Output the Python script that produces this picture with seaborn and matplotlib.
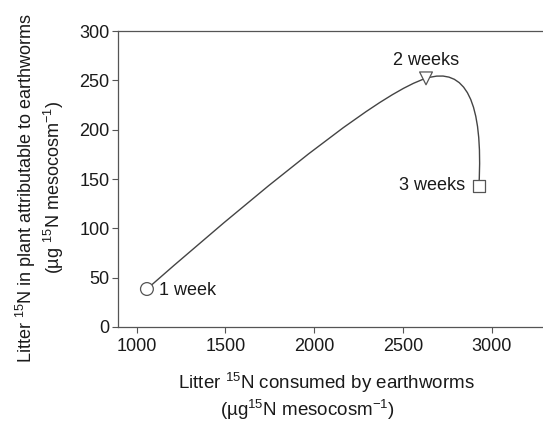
import numpy as np
import pandas as pd
import matplotlib
matplotlib.use("Agg")
import matplotlib.pyplot as plt
from matplotlib.path import Path
from matplotlib.patches import PathPatch
import seaborn as sns

# data
weeks = ["1 week", "2 weeks", "3 weeks"]
consumed = [1058, 2630, 2928]      # litter 15N consumed by earthworms
in_plant = [38.5, 252, 143]        # litter 15N in plant attributable to earthworms

x_ticks = [1000, 1500, 2000, 2500, 3000]
y_ticks = [0, 50, 100, 150, 200, 250, 300]

df = pd.DataFrame({"week": weeks, "consumed": consumed, "plant": in_plant})

sns.set_style("ticks")
plt.rcParams["font.family"] = ["Liberation Sans", "DejaVu Sans"]
plt.rcParams["mathtext.fontset"] = "custom"
plt.rcParams["mathtext.rm"] = "Liberation Sans"
plt.rcParams["mathtext.it"] = "Liberation Sans"
plt.rcParams["mathtext.default"] = "rm"

edge = "#555555"
txt = "#1a1a1a"

fig = plt.figure(figsize=(5.43, 4.26), dpi=100)
ax = fig.add_axes([0.2173, 0.2324, 0.7827, 0.6948])
ax.set_xlim(895, 3289)
ax.set_ylim(0, 300)


def smooth_path(ax, xs, ys, k=0.12):
    # excel-like smoothed line, built in screen space
    pts = ax.transData.transform(np.column_stack([xs, ys]))
    n = len(pts)
    h = [None] * n
    for i in range(1, n - 1):
        h[i] = k * (pts[i + 1] - pts[i - 1])
    h[0] = 2 * (pts[1] - pts[0]) / 3 - h[1]
    h[-1] = 2 * (pts[-1] - pts[-2]) / 3 - h[-2]
    verts = [pts[0]]
    codes = [Path.MOVETO]
    for i in range(n - 1):
        verts += [pts[i] + h[i], pts[i + 1] - h[i + 1], pts[i + 1]]
        codes += [Path.CURVE4] * 3
    verts = ax.transData.inverted().transform(np.array(verts))
    return Path(verts, codes)


ax.add_patch(PathPatch(smooth_path(ax, df["consumed"], df["plant"]),
                       facecolor="none", edgecolor="#444444", lw=1.0, zorder=2))

sns.scatterplot(data=df, x="consumed", y="plant", style="week",
                markers={"1 week": "o", "2 weeks": "v", "3 weeks": "s"},
                s=85, facecolor="white", edgecolor=edge, linewidth=0.9,
                legend=False, zorder=3, ax=ax)

fs = 13
ax.annotate(weeks[0], (consumed[0], in_plant[0]), xytext=(9, -1),
            textcoords="offset points", ha="left", va="center", fontsize=fs, color=txt)
ax.annotate(weeks[1], (consumed[1], in_plant[1]), xytext=(0, 13),
            textcoords="offset points", ha="center", va="center", fontsize=fs, color=txt)
ax.annotate(weeks[2], (consumed[2], in_plant[2]), xytext=(-10, 0),
            textcoords="offset points", ha="right", va="center", fontsize=fs, color=txt)

ax.set_xticks(x_ticks)
ax.set_yticks(y_ticks)
ax.tick_params(axis="both", labelsize=13, colors=edge, labelcolor=txt,
               length=4, width=0.8, direction="out", pad=2)
ax.tick_params(axis="x", pad=4)

for side in ["left", "bottom", "top"]:
    ax.spines[side].set_color(edge)
    ax.spines[side].set_linewidth(0.9)
ax.spines["right"].set_visible(False)

# x label: two lines, second one sits a little left of centre
ax.set_xlabel("Litter $^{15}$N consumed by earthworms", fontsize=13.5, color=txt)
ax.xaxis.set_label_coords(0.49, -0.15)
ax.xaxis.label.set_va("top")
ax.text(0.445, -0.24, "(µg$^{15}$N mesocosm$^{-1}$)", transform=ax.transAxes,
        ha="center", va="top", fontsize=13.5, color=txt)

ax.set_ylabel("Litter $^{15}$N in plant attributable to earthworms\n(µg $^{15}$N mesocosm$^{-1}$)",
              fontsize=13, color=txt, linespacing=1.2)
ax.yaxis.set_label_coords(-0.123, 0.47)

fig.savefig("out.png", dpi=100)
